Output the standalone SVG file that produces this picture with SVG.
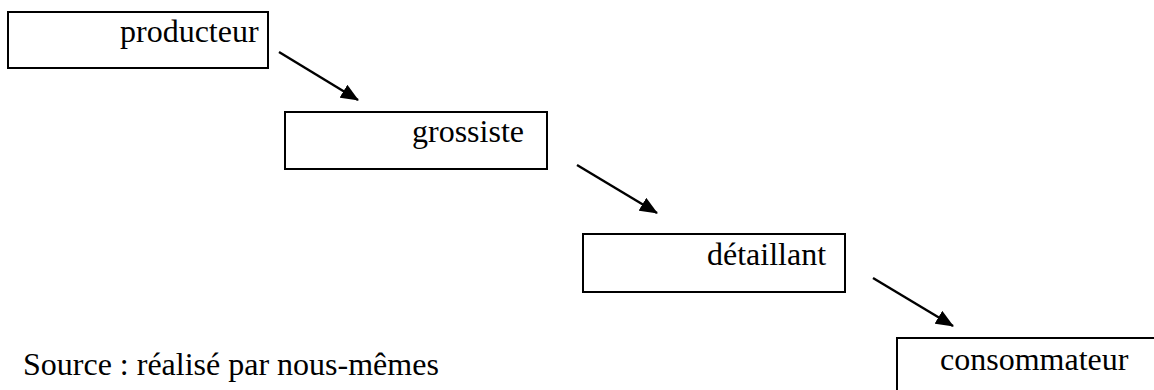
<svg xmlns="http://www.w3.org/2000/svg" width="1154" height="390" viewBox="0 0 1154 390">
<style>
.box{fill:#fff;stroke:#000;stroke-width:2}
.lbl{font-family:"Liberation Serif","Times New Roman",serif;font-size:32px;fill:#000}
.arr{stroke:#000;stroke-width:2.4;fill:none}
</style>
<defs>
<marker id="ah" viewBox="0 0 18 15" refX="17" refY="7.5" markerWidth="18" markerHeight="15" markerUnits="userSpaceOnUse" orient="auto">
<path d="M0,0 L18,7.5 L0,15 z" fill="#000"/>
</marker>
</defs>
<rect width="1154" height="390" fill="#fff"/>
<g id="producteur"><rect class="box" x="8" y="12" width="260" height="56"/><text class="lbl" x="120" y="42">producteur</text></g>
<g id="grossiste"><rect class="box" x="285" y="112" width="262" height="57"/><text class="lbl" x="412" y="142">grossiste</text></g>
<g id="detaillant"><rect class="box" x="583" y="234" width="262" height="58"/><text class="lbl" x="707" y="265">détaillant</text></g>
<g id="consommateur"><rect class="box" x="897" y="338" width="270" height="70"/><text class="lbl" x="940" y="370">consommateur</text></g>
<g id="connectors">
<line class="arr" x1="279" y1="52" x2="358" y2="100" marker-end="url(#ah)"/>
<line class="arr" x1="577" y1="165" x2="657" y2="213" marker-end="url(#ah)"/>
<line class="arr" x1="873" y1="278" x2="953" y2="326" marker-end="url(#ah)"/>
</g>
<text class="lbl" x="23" y="375">Source : réalisé par nous-mêmes</text>
</svg>
